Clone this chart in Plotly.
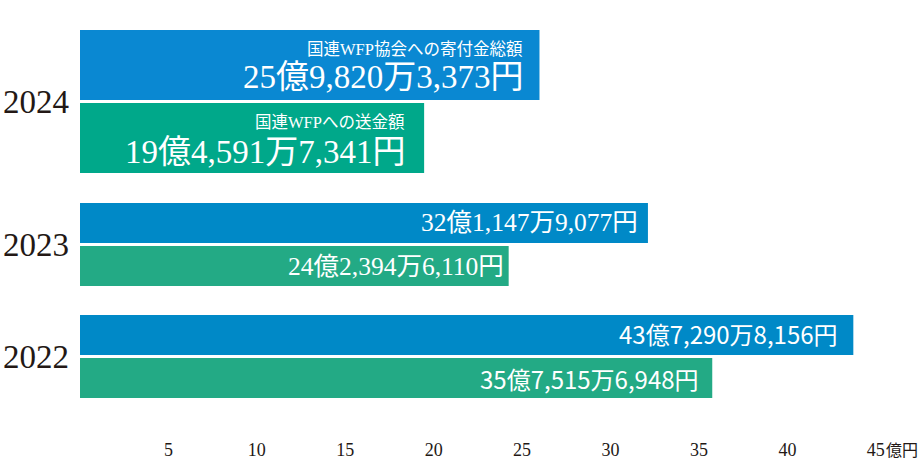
import plotly.graph_objects as go

# ---------------- data ----------------
years_bottom = ["2022", "2023"]
year_top = ["2024"]

donation_bottom = [43.72908156, 32.11479077]      # 億円 (2022, 2023)
donation_top = [25.98203373]                       # 億円 (2024)
remit_bottom = [35.75156948, 24.23946110]
remit_top = [19.45917341]

donation_labels_bottom = ["43億7,290万8,156円", "32億1,147万9,077円"]
donation_label_top = ["25億9,820万3,373円"]
remit_labels_bottom = ["35億7,515万6,948円", "24億2,394万6,110円"]
remit_label_top = ["19億4,591万7,341円"]

donation_name = "国連WFP協会への寄付金総額"
remit_name = "国連WFPへの送金額"

x_tickvals = [5, 10, 15, 20, 25, 30, 35, 40, 45]
x_ticktext = ["5", "10", "15", "20", "25", "30", "35", "40", "45"]
x_unit = "億円"

# ---------------- styles ----------------
BLUE_TOP = "#0A88D2"
GREEN_TOP = "#00A88A"
BLUE = "#0089C7"
GREEN = "#23AA85"
INK = "#231815"
SERIF = "Liberation Serif, Noto Sans CJK JP, serif"
SANS = "Noto Sans CJK JP, sans-serif"

fig = go.Figure()

# 2024 (top subplot)
fig.add_trace(go.Bar(y=year_top, x=donation_top, orientation="h", name=donation_name,
                     marker=dict(color=BLUE_TOP, line=dict(width=0)),
                     offset=0.0105, width=0.4895, yaxis="y", xaxis="x", hoverinfo="skip"))
fig.add_trace(go.Bar(y=year_top, x=remit_top, orientation="h", name=remit_name,
                     marker=dict(color=GREEN_TOP, line=dict(width=0)),
                     offset=-0.5, width=0.4895, yaxis="y", xaxis="x", hoverinfo="skip"))
# 2022, 2023 (bottom subplot)
fig.add_trace(go.Bar(y=years_bottom, x=donation_bottom, orientation="h", name=donation_name,
                     marker=dict(color=BLUE, line=dict(width=0)),
                     offset=0.013, width=0.357, yaxis="y2", xaxis="x", hoverinfo="skip"))
fig.add_trace(go.Bar(y=years_bottom, x=remit_bottom, orientation="h", name=remit_name,
                     marker=dict(color=GREEN, line=dict(width=0)),
                     offset=-0.37, width=0.357, yaxis="y2", xaxis="x", hoverinfo="skip"))

annotations = []
# 2024 two-line labels (category index 0 on the top axis)
annotations.append(dict(x=donation_top[0], y=0, xref="x", yref="y", text=donation_name,
                        xanchor="right", yanchor="middle", xshift=-14, yshift=51.5, showarrow=False,
                        font=dict(family=SERIF, size=16.5, color="white")))
annotations.append(dict(x=donation_top[0], y=0, xref="x", yref="y", text=donation_label_top[0],
                        xanchor="right", yanchor="middle", xshift=-13, yshift=24, showarrow=False,
                        font=dict(family=SERIF, size=33, color="white")))
annotations.append(dict(x=remit_top[0], y=0, xref="x", yref="y", text=remit_name,
                        xanchor="right", yanchor="middle", xshift=-17, yshift=-21.5, showarrow=False,
                        font=dict(family=SERIF, size=16.5, color="white")))
annotations.append(dict(x=remit_top[0], y=0, xref="x", yref="y", text=remit_label_top[0],
                        xanchor="right", yanchor="middle", xshift=-16, yshift=-50.5, showarrow=False,
                        font=dict(family=SERIF, size=33, color="white")))

# 2022 / 2023 value labels
bottom_fonts = [SANS, SERIF]
bottom_sizes = [24, 25.5]
don_shift = [-13, -8]
rem_shift = [-11, -3]
for i, yr in enumerate(years_bottom):
    annotations.append(dict(x=donation_bottom[i], y=i, xref="x", yref="y2", text=donation_labels_bottom[i],
                            xanchor="right", yanchor="middle", xshift=don_shift[i], yshift=22.5,
                            showarrow=False, font=dict(family=bottom_fonts[i], size=bottom_sizes[i], color="white")))
    annotations.append(dict(x=remit_bottom[i], y=i, xref="x", yref="y2", text=remit_labels_bottom[i],
                            xanchor="right", yanchor="middle", xshift=rem_shift[i], yshift=-22,
                            showarrow=False, font=dict(family=bottom_fonts[i], size=bottom_sizes[i], color="white")))

# unit after the last tick
annotations.append(dict(x=x_tickvals[-1], y=0, xref="x", yref="paper", text=x_unit,
                        xanchor="left", yanchor="top", xshift=8, yshift=-3, showarrow=False,
                        font=dict(family=SERIF, size=16, color=INK)))

fig.update_layout(
    width=920, height=463,
    margin=dict(l=80, r=9, t=20, b=26, autoexpand=False),
    paper_bgcolor="white", plot_bgcolor="white",
    barmode="overlay",
    showlegend=False,
    xaxis=dict(range=[0, 46.99], tickvals=x_tickvals, ticktext=x_ticktext,
               anchor="free", position=0,
               showgrid=True, gridcolor="rgba(255,255,255,0.18)", gridwidth=1, layer="above traces",
               zeroline=False, showline=False, ticks="", automargin=False,
               tickfont=dict(family=SERIF, size=18, color=INK), ticklabelstandoff=0),
    yaxis=dict(domain=[0.6331, 0.9760], type="category", range=[-0.5, 0.5], anchor="x",
               showgrid=False, zeroline=False, showline=False, ticks="", automargin=False,
               tickfont=dict(family=SERIF, size=33, color=INK), ticklabelstandoff=10),
    yaxis2=dict(domain=[0.05875, 0.5959], type="category", range=[-0.5, 1.5],
                categoryorder="array", categoryarray=years_bottom, anchor="x",
                showgrid=False, zeroline=False, showline=False, ticks="", automargin=False,
                tickfont=dict(family=SERIF, size=33, color=INK), ticklabelstandoff=10),
    annotations=annotations,
)

fig.write_html("out.html", config={"displayModeBar": False},
               post_script="document.body.style.margin='0';")
